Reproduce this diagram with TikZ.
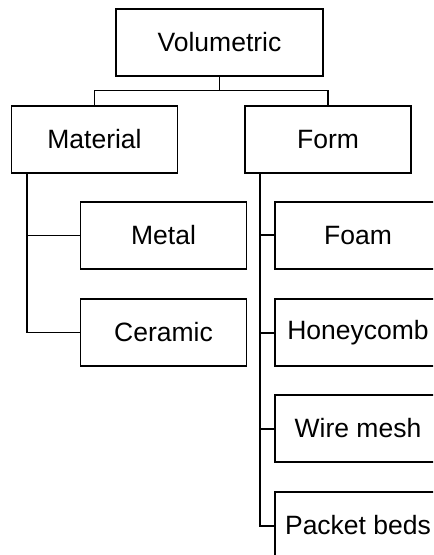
\documentclass[tikz,border=0pt]{standalone}
\usepackage{fontspec}
\setmainfont{Liberation Sans}
\usetikzlibrary{calc}
\begin{document}
\begin{tikzpicture}[x=0.5pt, y=-0.5pt]

\tikzset{mybox/.style={draw=black, line width=0.7pt, minimum width=83pt, minimum height=33.5pt, inner sep=0pt, font=\fontsize{13.25}{16}\selectfont}}
\tikzset{myline/.style={draw=black, line width=0.7pt}}

\clip (0,0) rectangle (433,555);
\useasboundingbox (0,0) rectangle (433,555);

\node[mybox, minimum width=103.5pt] (vol) at (219.5,42.5) {Volumetric};
\node[mybox] (mat) at (94.5,139.5) {Material};
\node[mybox] (form) at (328,139.5) {Form};
\node[mybox] (metal) at (163.5,235.5) {Metal};
\node[mybox] (ceramic) at (163.5,332.5) {Ceramic};
\node[mybox] (foam) at (358,235.5) {Foam};
\node[mybox] (honey) at (358,332.5) {Honeycomb};
\node[mybox] (wire) at (358,428.5) {Wire mesh};
\node[mybox] (packet) at (358,525.5) {Packet beds};

\draw[myline] (vol.south) -- +(0,14) -| (mat.north);
\draw[myline] (vol.south) -- +(0,14) -| (form.north);

\coordinate (matroot) at ($(mat.south west)+(16,0)$);
\coordinate (formroot) at ($(form.south west)+(16,0)$);

\draw[myline] (matroot) |- (metal.west);
\draw[myline] (matroot) |- (ceramic.west);

\draw[myline, line width=1pt] (formroot) |- (foam.west);
\draw[myline, line width=1pt] (formroot) |- (honey.west);
\draw[myline, line width=1pt] (formroot) |- (wire.west);
\draw[myline, line width=1pt] (formroot) |- (packet.west);

\end{tikzpicture}
\end{document}
